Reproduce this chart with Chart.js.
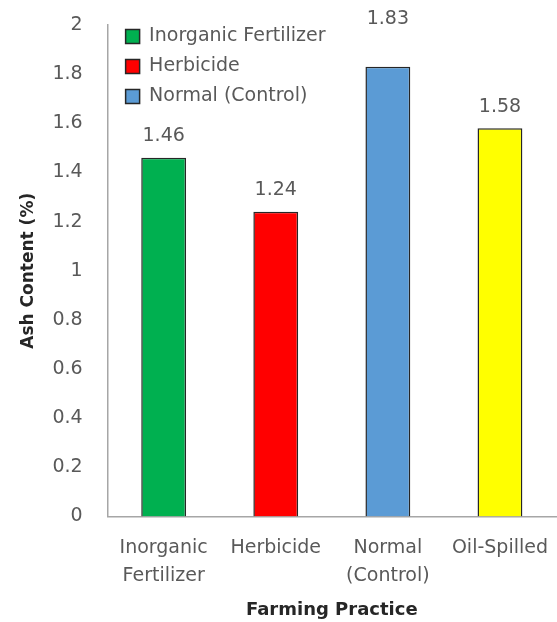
<!DOCTYPE html>
<html>
<head>
<meta charset="utf-8">
<script src="https://cdn.jsdelivr.net/npm/chart.js@4.4.0/dist/chart.umd.min.js"></script>
<style>
  html, body { margin: 0; padding: 0; background: #fff; }
  #wrap { width: 557px; height: 622px; }
</style>
</head>
<body>
<div id="wrap"><canvas id="chart"></canvas></div>
<script>
const categories = [['Inorganic', 'Fertilizer'], 'Herbicide', ['Normal', '(Control)'], 'Oil-Spilled'];
const legendNames = ['Inorganic Fertilizer', 'Herbicide', 'Normal (Control)'];
const ashContent = [1.46, 1.24, 1.83, 1.58];
const barColors = ['#00b050', '#ff0000', '#5b9bd5', '#ffff00'];
const yTicks = [0, 0.2, 0.4, 0.6, 0.8, 1, 1.2, 1.4, 1.6, 1.8, 2];

const FONT = "'DejaVu Sans', sans-serif";
const TEXT = '#595959';
// the label of the tallest bar sits higher in the original
const labelGap = [12, 12, 38, 12];

// nudge the in-plot legend away from the y axis
const legendShift = {
  id: 'legendShift',
  afterLayout(chart) { chart.legend.left += 7; }
};

// values written above each bar
const valueLabels = {
  id: 'valueLabels',
  afterDatasetsDraw(chart) {
    const ctx = chart.ctx;
    const meta = chart.getDatasetMeta(0);
    ctx.save();
    ctx.font = '19px ' + FONT;
    ctx.fillStyle = TEXT;
    ctx.textAlign = 'center';
    ctx.textBaseline = 'bottom';
    meta.data.forEach((bar, i) => {
      ctx.fillText(ashContent[i].toFixed(2), bar.x, bar.y - labelGap[i]);
    });
    ctx.restore();
  }
};

// the tick paddings would otherwise shrink the plot area
const noEdgePadding = axis => {
  axis.paddingLeft = 0;
  axis.paddingRight = 0;
  axis.paddingTop = 0;
  axis.paddingBottom = 0;
};

chart = new Chart(document.getElementById('chart').getContext('2d'), {
  type: 'bar',
  data: {
    labels: categories,
    datasets: [{
      label: 'Ash Content (%)',
      data: ashContent,
      backgroundColor: barColors,
      borderColor: '#262626',
      borderWidth: 1.5,
      barPercentage: 0.4,
      categoryPercentage: 1
    }]
  },
  options: {
    responsive: true,
    maintainAspectRatio: false,
    animation: false,
    layout: { padding: { left: 18, right: 1, top: 25, bottom: 1 } },
    plugins: {
      tooltip: { enabled: false },
      legend: {
        position: 'chartArea',
        align: 'start',
        title: { display: true, text: '', font: { size: 1, lineHeight: 1 }, padding: { top: 15, bottom: 0 } },
        labels: {
          boxWidth: 14,
          boxHeight: 14,
          padding: 11,
          color: TEXT,
          font: { family: FONT, size: 19 },
          generateLabels: () => legendNames.map((name, i) => ({
            text: name,
            fillStyle: barColors[i],
            strokeStyle: '#262626',
            lineWidth: 1.5,
            fontColor: TEXT,
            index: i
          }))
        }
      }
    },
    scales: {
      x: {
        afterFit: noEdgePadding,
        grid: { display: false, tickLength: 18 },
        border: { display: true, color: '#a6a6a6', width: 1.5 },
        ticks: {
          color: TEXT,
          font: { family: FONT, size: 19, lineHeight: 1.47 },
          maxRotation: 0,
          autoSkip: false,
          padding: 0
        },
        title: {
          display: true,
          text: 'Farming Practice',
          color: '#262626',
          font: { family: FONT, size: 18, weight: 'bold' },
          padding: { top: 9, bottom: 0 }
        }
      },
      y: {
        min: 0,
        max: 2,
        afterBuildTicks: axis => { axis.ticks = yTicks.map(v => ({ value: v })); },
        afterFit: noEdgePadding,
        grid: { display: false, tickLength: 25 },
        border: { display: true, color: '#a6a6a6', width: 1.5 },
        ticks: {
          color: TEXT,
          font: { family: FONT, size: 19 },
          padding: 0,
          callback: v => String(v)
        },
        title: {
          display: true,
          text: 'Ash Content (%)',
          color: '#262626',
          font: { family: FONT, size: 17, weight: 'bold' },
          padding: { top: 0, bottom: 14 }
        }
      }
    }
  },
  plugins: [legendShift, valueLabels]
});
</script>
</body>
</html>
